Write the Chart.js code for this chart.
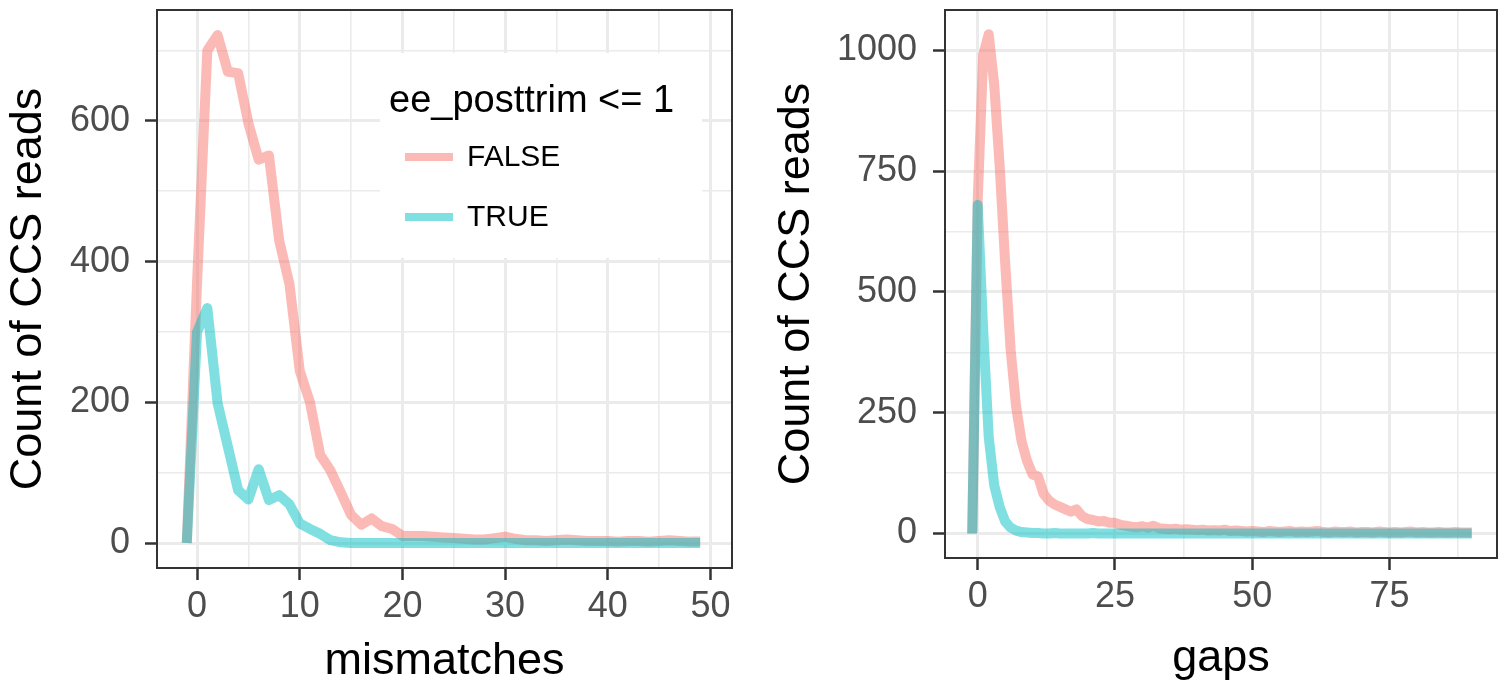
<!DOCTYPE html>
<html>
<head>
<meta charset="utf-8">
<script src="https://cdn.jsdelivr.net/npm/chart.js@4.4.1/dist/chart.umd.min.js"></script>
<style>
  html, body { margin: 0; padding: 0; background: #fff; }
  #wrap { position: relative; width: 1510px; height: 684px; overflow: hidden; }
  #left { position: absolute; left: 0; top: 0; }
  #right { position: absolute; left: 760px; top: 0; }
</style>
</head>
<body>
<div id="wrap">
  <canvas id="left" width="760" height="684"></canvas>
  <canvas id="right" width="750" height="684"></canvas>
</div>
<script>
// mismatches panel
const mmX = [-1,0,1,2,3,4,5,6,7,8,9,10,11,12,13,14,15,16,17,18,19,20,21,22,23,24,25,26,27,28,29,30,31,32,33,34,35,36,37,38,39,40,41,42,43,44,45,46,47,48,49];
const mmFalse = [0,370,700,722,670,668,597,545,551,430,368,245,200,125,103,72,40,26,35,24,20,10,10,10,9,8,7,6,5,5,7,9,6,4,4,3,4,5,4,3,3,3,2,3,3,2,3,4,3,2,2];
const mmTrue = [0,300,334,199,137,75,62,105,61,68,55,28,20,13,4,1,0,0,0,0,0,0,0,0,0,0,0,0,0,0,0,0,0,0,0,0,0,0,0,0,0,0,0,0,0,0,0,0,0,0,0];
const mmXMajor = [0,10,20,30,40,50];
const mmXMinor = [5,15,25,35,45];
const mmYMajor = [0,200,400,600];
const mmYMinor = [100,300,500,700];

// gaps panel
const gpX = [-1,0,1,2,3,4,5,6,7,8,9,10,11,12,13,14,15,16,17,18,19,20,21,22,23,24,25,26,27,28,29,30,31,32,33,34,35,36,37,38,39,40,41,42,43,44,45,46,47,48,49,50,51,52,53,54,55,56,57,58,59,60,61,62,63,64,65,66,67,68,69,70,71,72,73,74,75,76,77,78,79,80,81,82,83,84,85,86,87,88,89,90];
const gpFalse = [0,690,990,1033,930,760,560,380,262,190,150,122,118,82,68,60,55,50,45,50,36,30,28,25,26,22,22,18,16,14,13,15,12,16,11,10,9,10,8,9,8,7,8,6,7,6,8,5,6,5,4,5,
  4,3,5,4,3,4,5,3,4,3,4,5,3,2,4,3,3,4,2,3,
  3,2,4,3,2,3,2,3,4,2,3,2,2,3,2,2,3,2,2,2];
const gpTrue = [0,680,420,200,100,55,25,12,6,3,2,1,
  1,0,0,1,0,0,0,0,0,0,1,0,0,0,0,0,0,0,0,0,
  0,0,0,0,0,0,0,0,0,0,0,0,0,0,0,0,0,0,0,0,
  0,0,0,0,0,0,0,0,0,0,0,0,0,0,0,0,0,0,0,0,
  0,0,0,0,0,0,0,0,0,0,0,0,0,0,0,0,0,0,0,0];
const gpXMajor = [0,25,50,75];
const gpXMinor = [12.5,37.5,62.5,87.5];
const gpYMajor = [0,250,500,750,1000];
const gpYMinor = [125,375,625,875];

const seriesNames = ["FALSE", "TRUE"];
const legendTitle = "ee_posttrim <= 1";
const yTitle = "Count of CCS reads";

const pinkLine = "rgba(248,118,109,0.5)";
const tealLine = "rgba(0,191,196,0.5)";
const fontFam = "'Liberation Sans', Arial, sans-serif";

Chart.defaults.font.family = fontFam;

const boxPlugin = {
  id: "box",
  afterDatasetsDraw(chart) {
    const { ctx, chartArea: a } = chart;
    ctx.save();
    ctx.strokeStyle = "#333333";
    ctx.lineWidth = 2;
    ctx.strokeRect(a.left, a.top, a.right - a.left, a.bottom - a.top);
    ctx.restore();
  }
};

const legendPlugin = {
  id: "ggLegend",
  afterDatasetsDraw(chart) {
    const ctx = chart.ctx;
    ctx.save();
    ctx.fillStyle = "#ffffff";
    ctx.fillRect(380, 53, 322, 205);
    ctx.fillStyle = "#000000";
    ctx.textBaseline = "alphabetic";
    ctx.font = "38px " + fontFam;
    ctx.fillText(legendTitle, 389, 112);
    ctx.font = "30px " + fontFam;
    ctx.textBaseline = "middle";
    const cols = [pinkLine, tealLine];
    const ys = [157, 217];
    seriesNames.forEach((n, i) => {
      ctx.strokeStyle = cols[i];
      ctx.lineWidth = 8;
      ctx.beginPath();
      ctx.moveTo(405, ys[i]);
      ctx.lineTo(453, ys[i]);
      ctx.stroke();
      ctx.fillStyle = "#000000";
      ctx.fillText(n, 467, ys[i] + 1);
    });
    ctx.restore();
  }
};

function axis(major, minor, lim, opts) {
  const all = major.concat(minor).sort((a, b) => a - b);
  return {
    type: "linear",
    min: lim[0],
    max: lim[1],
    afterBuildTicks: s => { s.ticks = all.map(v => ({ value: v })); },
    afterFit: s => {
      if (opts.width) s.width = opts.width;
      if (opts.height) s.height = opts.height;
      s.paddingTop = 0; s.paddingBottom = 0; s.paddingLeft = 0; s.paddingRight = 0;
    },
    border: { display: false },
    grid: {
      color: "#EBEBEB",
      lineWidth: c => major.includes(c.tick.value) ? 3 : 1.6,
      tickColor: c => major.includes(c.tick.value) ? "#333333" : "rgba(0,0,0,0)",
      tickLength: 12,
      tickWidth: 2.5
    },
    ticks: {
      autoSkip: false,
      maxRotation: 0,
      padding: opts.tickPad,
      color: "#4D4D4D",
      font: { size: 36 },
      callback: v => major.includes(v) ? String(v) : ""
    },
    title: {
      display: true,
      text: opts.title,
      color: "#000000",
      font: { size: 45, lineHeight: 1 },
      padding: opts.titlePad
    }
  };
}

function panel(id, xs, falseVals, trueVals, xAxis, yAxis, pad, plugins) {
  return new Chart(document.getElementById(id), {
    type: "line",
    data: {
      datasets: [
        {
          label: seriesNames[0],
          data: xs.map((x, i) => ({ x: x, y: falseVals[i] })),
          borderColor: pinkLine,
          order: 1
        },
        {
          label: seriesNames[1],
          data: xs.map((x, i) => ({ x: x, y: trueVals[i] })),
          borderColor: tealLine,
          order: 0
        }
      ]
    },
    options: {
      responsive: false,
      animation: false,
      devicePixelRatio: 1,
      layout: { padding: pad },
      elements: {
        line: { borderWidth: 10, tension: 0, borderJoinStyle: "round", borderCapStyle: "butt" },
        point: { radius: 0, hoverRadius: 0 }
      },
      plugins: { legend: { display: false }, tooltip: { enabled: false } },
      scales: { x: xAxis, y: yAxis }
    },
    plugins: plugins
  });
}

panel("left", mmX, mmFalse, mmTrue,
  axis(mmXMajor, mmXMinor, [-3.9, 52.1], { height: 116, tickPad: 5, title: "mismatches", titlePad: { top: 0, bottom: 0 } }),
  axis(mmYMajor, mmYMinor, [-35.5, 757.7], { width: 157, tickPad: 15, title: yTitle, titlePad: { top: 6, bottom: 0 } }),
  { top: 10, right: 28, left: 0, bottom: 0 },
  [boxPlugin, legendPlugin]);

panel("right", gpX, gpFalse, gpTrue,
  axis(gpXMajor, gpXMinor, [-5.96, 94.6], { height: 126, tickPad: 5, title: "gaps", titlePad: { top: 0, bottom: 3 } }),
  axis(gpYMajor, gpYMinor, [-50.7, 1083.4], { width: 185, tickPad: 16, title: yTitle, titlePad: { top: 14, bottom: 0 } }),
  { top: 10, right: 13, left: 0, bottom: 0 },
  [boxPlugin]);
</script>
</body>
</html>
